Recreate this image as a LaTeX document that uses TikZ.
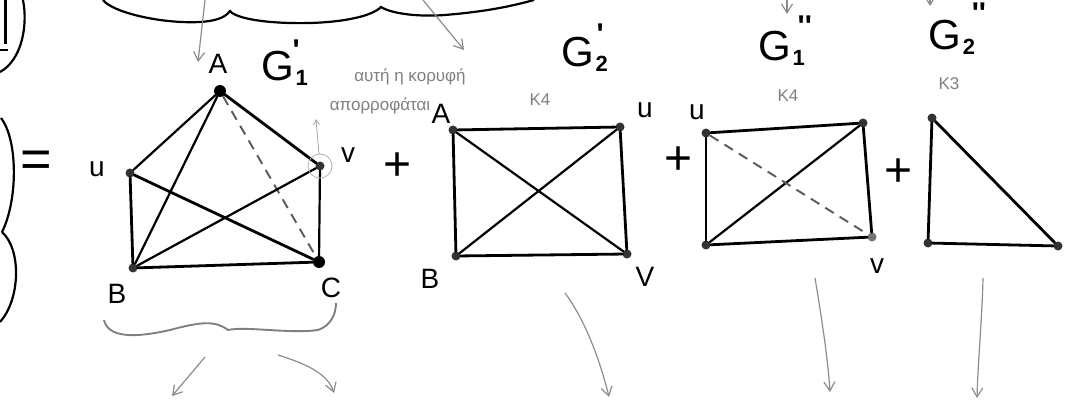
\documentclass[tikz,border=0pt]{standalone}
\usepackage{fontspec}
\setmainfont{Liberation Sans}
\usetikzlibrary{arrows.meta}
\tikzset{
  vtx/.style={circle,fill=black!80,inner sep=0pt,minimum size=9pt},
  bigvtx/.style={circle,fill=black,inner sep=0pt,minimum size=12pt},
  edge/.style={line width=2.8pt,black,line cap=round},
  thinedge/.style={line width=2.2pt,black,line cap=round},
  dashedge/.style={line width=1.9pt,black!65,dash pattern=on 10pt off 7pt},
  lbl/.style={font=\fontsize{28}{28}\selectfont,inner sep=0pt},
  ttl/.style={font=\fontsize{42}{42}\selectfont,inner sep=0pt},
  sub/.style={font=\fontsize{22}{22}\selectfont\bfseries,inner sep=0pt},
  prm/.style={font=\fontsize{30}{30}\selectfont\bfseries,inner sep=0pt},
  note/.style={font=\fontsize{17}{17}\selectfont,text=black!50,inner sep=0pt},
  plus/.style={font=\fontsize{48}{48}\selectfont,inner sep=0pt},
  pencil/.style={black!45,line width=1.2pt,-{Straight Barb[length=9pt,width=11pt]}},
  ink/.style={line width=2.2pt,black},
}
\begin{document}
\begin{tikzpicture}[x=1pt,y=-1pt]
\useasboundingbox (0,0) rectangle (1067,403);
% ---------- left fragments ----------
\draw[ink] (23,0) .. controls (28,25) and (22,60) .. (0,72);
\draw[line width=3pt] (5,0) -- (5,44);
\draw[ink] (0,50) -- (8,50);
\draw[ink] (1,118) .. controls (18,140) and (18,200) .. (2,232);
\draw[ink] (2,232) .. controls (22,250) and (20,300) .. (0,322);
\node[font=\fontsize{54}{54}\selectfont,inner sep=0pt] (eq) at (36,164) {=};
% ---------- top brace ----------
\draw[ink] (103,0) .. controls (112,12) and (160,24) .. (200,22)
  .. controls (215,21) and (225,18) .. (230,11)
  .. controls (236,19) and (270,24) .. (310,23)
  .. controls (345,22) and (372,16) .. (381,7)
  .. controls (392,14) and (420,17) .. (445,15)
  .. controls (480,12) and (505,8) .. (534,0);
\coordinate (t1) at (205,0); \coordinate (t1e) at (198,62);
\coordinate (t2) at (423,0); \coordinate (t2e) at (464,50);
\draw[pencil] (t1) -- (t1e);
\draw[pencil] (t2) -- (t2e);
\coordinate (t3) at (787,0); \coordinate (t3e) at (787,14);
\coordinate (t4) at (930,0); \coordinate (t4e) at (930,6);
\draw[pencil] (t3) -- (t3e);
\draw[pencil] (t4) -- (t4e);
% ---------- G1' ----------
\node[bigvtx] (A1) at (220,91) {};
\node[vtx] (U1) at (130,173) {};
\node[vtx] (V1) at (320,166) {};
\node[vtx] (B1) at (133,268) {};
\node[bigvtx] (C1) at (319,262) {};
\draw[thinedge] (A1) -- (U1);
\draw[edge] (A1) -- (V1);
\draw[thinedge] (A1) -- (B1);
\draw[dashedge] (A1) -- (C1);
\draw[edge] (U1) -- (B1);
\draw[edge] (U1) -- (C1);
\draw[thinedge] (V1) -- (B1);
\draw[thinedge] (V1) -- (C1);
\draw[edge] (B1) -- (C1);
\node[circle,draw=black!30,line width=0.8pt,minimum size=24pt,inner sep=0pt] (Vc) at (320,166) {};
\node[lbl] (lA1) at (218,64) {A};
\node[lbl] (lU1) at (97,169) {u};
\node[lbl] (lV1) at (348,155) {v};
\node[lbl] (lB1) at (117,294) {B};
\node[lbl] (lC1) at (331,288) {C};
\node[ttl] (g1) at (278,66) {G};
\node[sub,anchor=west] (g1s) at ([xshift=1pt,yshift=-12pt]g1.east) {1};
\node[prm,anchor=south west] (g1p) at ([xshift=-2pt,yshift=-10pt]g1.north east) {\textquotesingle};
\node[note] (n1) at (410,77) {αυτή η κορυφή};
\node[note] (n2) at (380,106) {απορροφάται};
\draw[black!35,line width=0.8pt,-{Straight Barb[length=5pt,width=6pt]}] (Vc) -- (316,119);
% ---------- G2' ----------
\node[vtx] (A2) at (453,130) {};
\node[vtx] (U2) at (620,127) {};
\node[vtx] (B2) at (456,256) {};
\node[vtx] (V2) at (627,254) {};
\draw[edge] (A2) -- (U2);
\draw[edge] (A2) -- (B2);
\draw[edge] (U2) -- (V2);
\draw[edge] (B2) -- (V2);
\draw[thinedge] (A2) -- (V2);
\draw[thinedge] (B2) -- (U2);
\node[lbl] (lA2) at (441,114) {A};
\node[lbl] (lU2) at (645,110) {u};
\node[lbl] (lB2) at (430,279) {B};
\node[lbl] (lV2) at (645,277) {V};
\node[ttl] (g2) at (578,52) {G};
\node[sub,anchor=west] (g2s) at ([xshift=1pt,yshift=-12pt]g2.east) {2};
\node[prm,anchor=south west] (g2p) at ([xshift=2pt,yshift=-8pt]g2.north east) {\textquotesingle};
\node[note] (k1) at (540,100) {K4};
% ---------- G1'' ----------
\node[vtx] (U3) at (706,133) {};
\node[vtx] (R3) at (863,123) {};
\node[vtx] (L3) at (706,245) {};
\node[vtx,fill=black!55] (V3) at (872,237) {};
\draw[edge] (U3) -- (R3);
\draw[edge] (U3) -- (L3);
\draw[edge] (R3) -- (V3);
\draw[edge] (L3) -- (V3);
\draw[thinedge] (L3) -- (R3);
\draw[dashedge] (U3) -- (V3);
\node[lbl] (lU3) at (697,112) {u};
\node[lbl] (lV3) at (877,266) {v};
\node[ttl] (g3) at (775,46) {G};
\node[sub,anchor=west] (g3s) at ([xshift=1pt,yshift=-12pt]g3.east) {1};
\node[prm,anchor=south west] (g3p) at ([xshift=6pt,yshift=-6pt]g3.north east) {\textquotesingle\textquotesingle};
\node[note] (k2) at (788,96) {K4};
% ---------- G2'' ----------
\node[vtx] (T4) at (932,118) {};
\node[vtx] (L4) at (928,243) {};
\node[vtx] (R4) at (1058,246) {};
\draw[edge] (T4) -- (L4);
\draw[edge] (T4) -- (R4);
\draw[edge] (L4) -- (R4);
\node[ttl] (g4) at (945,35) {G};
\node[sub,anchor=west] (g4s) at ([xshift=1pt,yshift=-12pt]g4.east) {2};
\node[prm,anchor=south west] (g4p) at ([xshift=10pt,yshift=-4pt]g4.north east) {\textquotesingle\textquotesingle};
\node[note] (k3) at (949,84) {K3};
% ---------- plus signs ----------
\node[plus] (p1) at (398,167) {+};
\node[plus] (p2) at (679,161) {+};
\node[plus] (p3) at (899,173) {+};
% ---------- bottom ----------
\draw[black!50,line width=1.9pt] (104,320) .. controls (108,338) and (135,338) .. (170,330)
  .. controls (200,322) and (215,320) .. (228,330)
  .. controls (245,326) and (290,334) .. (318,330)
  .. controls (330,326) and (336,315) .. (336,303);
\coordinate (b1) at (205,357); \coordinate (b1e) at (172,396);
\coordinate (b2) at (278,355); \coordinate (b2e) at (334,393);
\draw[pencil] (b1) -- (b1e);
\draw[pencil] (b2) .. controls (310,365) and (328,375) .. (b2e);
\coordinate (b3) at (565,293); \coordinate (b3e) at (609,397);
\draw[pencil] (b3) .. controls (585,320) and (600,360) .. (b3e);
\coordinate (b4) at (815,278); \coordinate (b4e) at (830,392);
\draw[pencil] (b4) .. controls (822,320) and (828,360) .. (b4e);
\coordinate (b5) at (983,278); \coordinate (b5e) at (977,398);
\draw[pencil] (b5) .. controls (982,320) and (978,360) .. (b5e);
\end{tikzpicture}
\end{document}
